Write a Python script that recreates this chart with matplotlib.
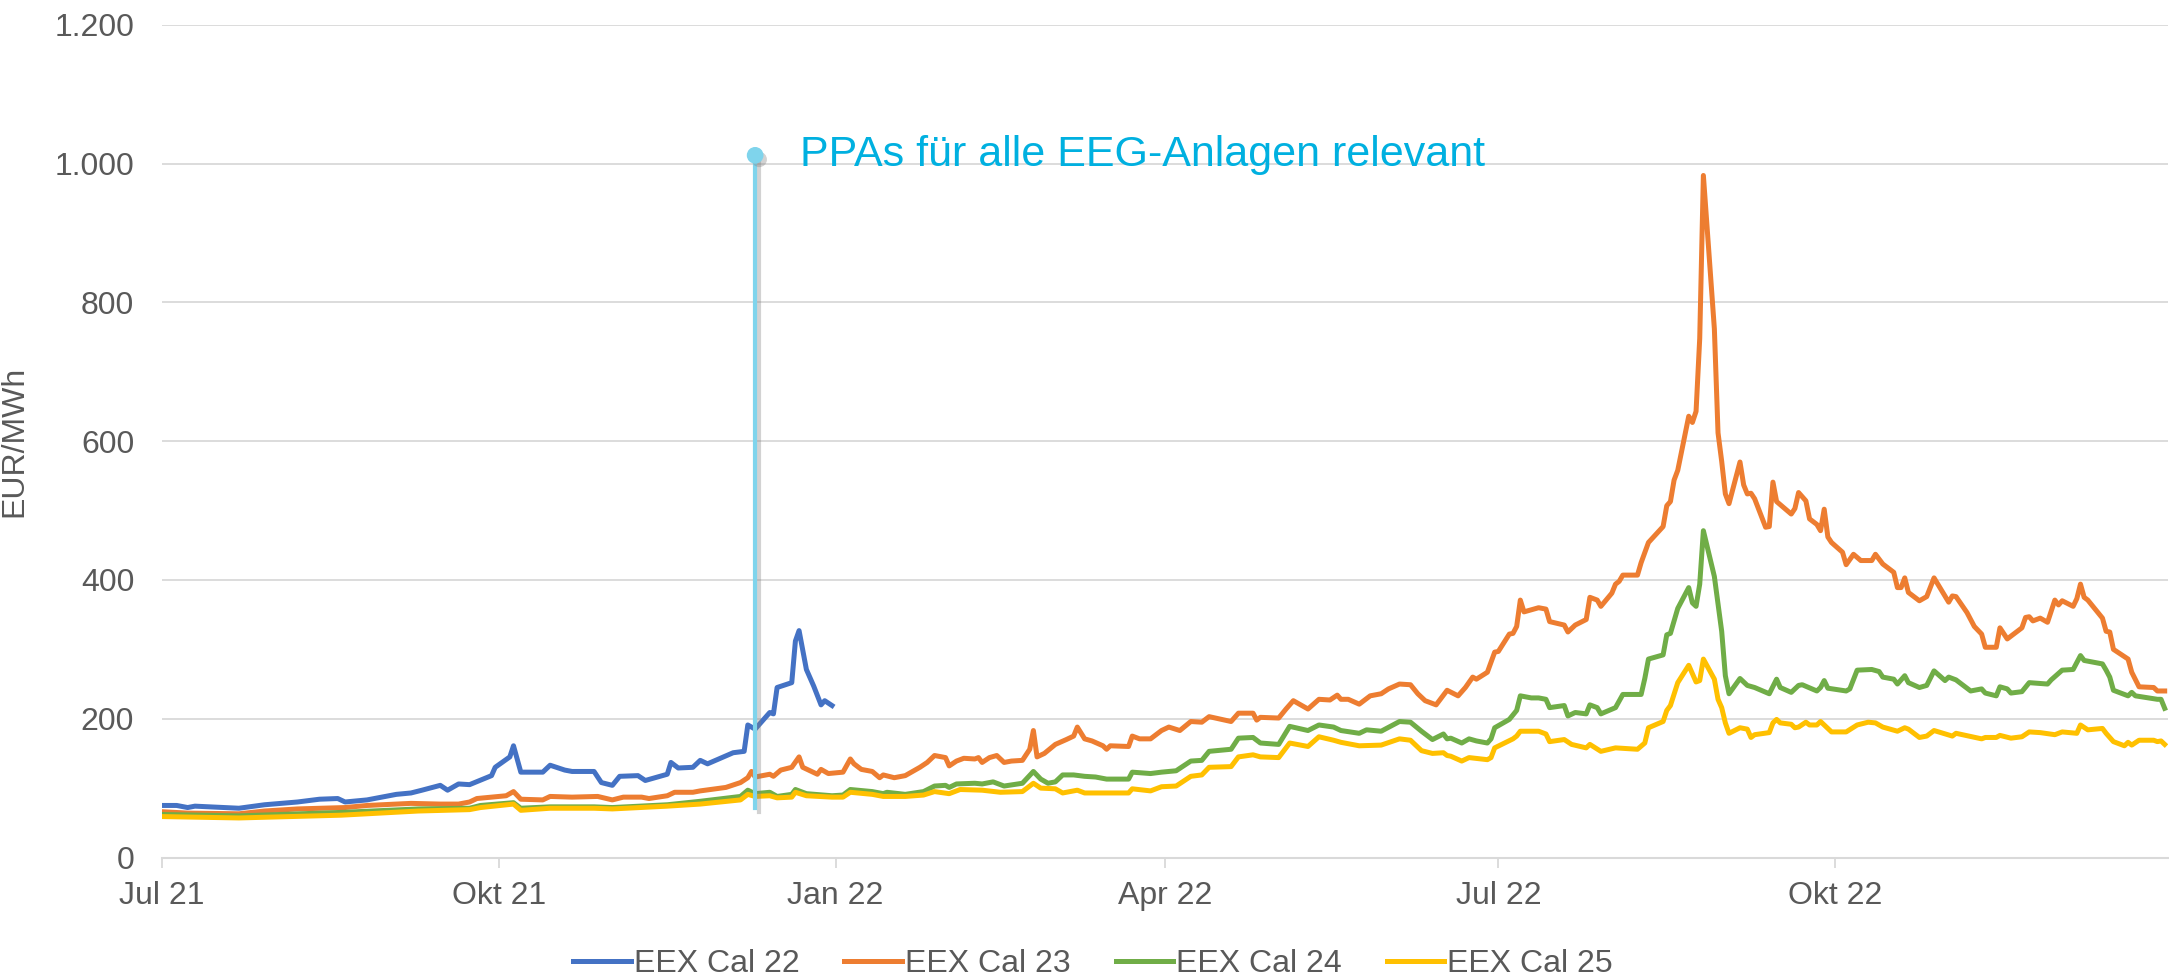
import matplotlib
matplotlib.use('Agg')
import matplotlib.pyplot as plt
import matplotlib.patheffects as pe
import pandas as pd

plt.rcParams['font.family'] = ['Liberation Sans', 'DejaVu Sans']

# EEX Cal 22
cal22_dates = ["2021-07-01", "2021-07-05", "2021-07-08", "2021-07-10", "2021-07-22", "2021-07-29",
               "2021-08-07", "2021-08-13", "2021-08-18", "2021-08-20", "2021-08-26", "2021-09-03",
               "2021-09-07", "2021-09-10", "2021-09-15", "2021-09-17", "2021-09-20", "2021-09-23",
               "2021-09-29", "2021-09-30", "2021-10-04", "2021-10-05", "2021-10-07", "2021-10-13",
               "2021-10-15", "2021-10-19", "2021-10-21", "2021-10-27", "2021-10-29", "2021-11-01",
               "2021-11-03", "2021-11-08", "2021-11-10", "2021-11-16", "2021-11-17", "2021-11-19",
               "2021-11-23", "2021-11-25", "2021-11-27", "2021-12-04", "2021-12-07", "2021-12-08",
               "2021-12-10", "2021-12-14", "2021-12-15", "2021-12-16", "2021-12-20", "2021-12-21",
               "2021-12-22", "2021-12-24", "2021-12-26", "2021-12-28", "2021-12-29", "2021-12-31"]
cal22_values = [75, 75, 72, 74, 71, 76,
                80, 84, 85, 80, 83, 91,
                93, 97, 104, 97, 106, 105,
                118, 130, 145, 161, 123, 123,
                133, 126, 124, 124, 108, 104,
                117, 118, 111, 120, 137, 129,
                130, 140, 135, 151, 153, 191,
                185, 209, 207, 245, 252, 312,
                327, 271, 247, 220, 226, 219]

# EEX Cal 23
cal23_dates = ["2021-07-01", "2021-07-08", "2021-07-22", "2021-07-29", "2021-08-07", "2021-08-20",
               "2021-08-26", "2021-09-07", "2021-09-15", "2021-09-20", "2021-09-23", "2021-09-25",
               "2021-09-29", "2021-10-03", "2021-10-05", "2021-10-07", "2021-10-13", "2021-10-15",
               "2021-10-21", "2021-10-28", "2021-11-01", "2021-11-04", "2021-11-09", "2021-11-11",
               "2021-11-16", "2021-11-18", "2021-11-23", "2021-11-25", "2021-12-02", "2021-12-06",
               "2021-12-08", "2021-12-09", "2021-12-10", "2021-12-14", "2021-12-15", "2021-12-17",
               "2021-12-20", "2021-12-22", "2021-12-23", "2021-12-27", "2021-12-28", "2021-12-30",
               "2022-01-03", "2022-01-05", "2022-01-06", "2022-01-08", "2022-01-11", "2022-01-13",
               "2022-01-14", "2022-01-17", "2022-01-20", "2022-01-23", "2022-01-24", "2022-01-26",
               "2022-01-28", "2022-01-31", "2022-02-01", "2022-02-03", "2022-02-05", "2022-02-08",
               "2022-02-09", "2022-02-10", "2022-02-12", "2022-02-14", "2022-02-16", "2022-02-18",
               "2022-02-21", "2022-02-23", "2022-02-24", "2022-02-25", "2022-02-27", "2022-03-02",
               "2022-03-05", "2022-03-07", "2022-03-08", "2022-03-10", "2022-03-12", "2022-03-15",
               "2022-03-16", "2022-03-17", "2022-03-22", "2022-03-23", "2022-03-25", "2022-03-28",
               "2022-03-31", "2022-04-02", "2022-04-05", "2022-04-08", "2022-04-11", "2022-04-13",
               "2022-04-19", "2022-04-21", "2022-04-25", "2022-04-26", "2022-04-27", "2022-05-02",
               "2022-05-04", "2022-05-06", "2022-05-10", "2022-05-13", "2022-05-16", "2022-05-18",
               "2022-05-19", "2022-05-21", "2022-05-24", "2022-05-27", "2022-05-30", "2022-06-01",
               "2022-06-04", "2022-06-07", "2022-06-09", "2022-06-11", "2022-06-14", "2022-06-17",
               "2022-06-20", "2022-06-22", "2022-06-24", "2022-06-25", "2022-06-28", "2022-06-30",
               "2022-07-01", "2022-07-04", "2022-07-05", "2022-07-06", "2022-07-07", "2022-07-08",
               "2022-07-12", "2022-07-14", "2022-07-15", "2022-07-19", "2022-07-20", "2022-07-22",
               "2022-07-25", "2022-07-26", "2022-07-28", "2022-07-29", "2022-08-01", "2022-08-02",
               "2022-08-03", "2022-08-04", "2022-08-08", "2022-08-09", "2022-08-11", "2022-08-15",
               "2022-08-16", "2022-08-17", "2022-08-18", "2022-08-19", "2022-08-22", "2022-08-23",
               "2022-08-24", "2022-08-25", "2022-08-26", "2022-08-29", "2022-08-30", "2022-08-31",
               "2022-09-01", "2022-09-02", "2022-09-05", "2022-09-06", "2022-09-07", "2022-09-08",
               "2022-09-09", "2022-09-12", "2022-09-13", "2022-09-14", "2022-09-15", "2022-09-19",
               "2022-09-20", "2022-09-21", "2022-09-23", "2022-09-24", "2022-09-26", "2022-09-27",
               "2022-09-28", "2022-09-29", "2022-09-30", "2022-10-03", "2022-10-04", "2022-10-06",
               "2022-10-08", "2022-10-11", "2022-10-12", "2022-10-14", "2022-10-17", "2022-10-18",
               "2022-10-19", "2022-10-20", "2022-10-21", "2022-10-24", "2022-10-26", "2022-10-28",
               "2022-11-01", "2022-11-02", "2022-11-03", "2022-11-06", "2022-11-08", "2022-11-10",
               "2022-11-11", "2022-11-14", "2022-11-15", "2022-11-17", "2022-11-21", "2022-11-22",
               "2022-11-23", "2022-11-24", "2022-11-26", "2022-11-28", "2022-11-30", "2022-12-01",
               "2022-12-02", "2022-12-05", "2022-12-06", "2022-12-07", "2022-12-08", "2022-12-09",
               "2022-12-13", "2022-12-14", "2022-12-15", "2022-12-16", "2022-12-20", "2022-12-21",
               "2022-12-23", "2022-12-27", "2022-12-28", "2022-12-30"]
cal23_values = [66, 64, 63, 67, 70, 72,
                75, 78, 77, 77, 80, 85,
                87, 89, 95, 84, 83, 88,
                87, 88, 83, 87, 87, 85,
                89, 94, 94, 96, 101, 108,
                115, 124, 116, 120, 117, 126,
                130, 145, 130, 120, 127, 121,
                123, 142, 135, 127, 124, 115,
                119, 115, 118, 127, 130, 137,
                147, 144, 132, 139, 143, 142,
                144, 137, 144, 147, 137, 139,
                140, 156, 183, 145, 150, 163,
                170, 175, 188, 171, 168, 161,
                156, 161, 160, 175, 171, 171,
                183, 188, 183, 196, 195, 203,
                196, 208, 208, 198, 202, 201,
                214, 226, 214, 228, 227, 234,
                228, 228, 221, 233, 236, 243,
                250, 249, 236, 226, 220, 241,
                233, 245, 260, 257, 267, 296,
                297, 322, 323, 333, 371, 354,
                360, 358, 340, 335, 325, 335,
                343, 375, 371, 362, 381, 394,
                398, 407, 407, 425, 454, 477,
                507, 513, 544, 558, 636, 627,
                643, 748, 983, 762, 612, 571,
                524, 510, 570, 537, 524, 525,
                517, 476, 477, 541, 513, 495,
                503, 526, 514, 488, 480, 471,
                502, 462, 454, 440, 422, 437,
                428, 428, 437, 423, 411, 389,
                389, 403, 382, 370, 376, 403,
                368, 377, 376, 353, 333, 322,
                303, 303, 331, 315, 331, 346,
                347, 341, 345, 339, 371, 364,
                370, 362, 373, 394, 375, 371,
                345, 326, 325, 300, 286, 267,
                246, 245, 240, 240]

# EEX Cal 24
cal24_dates = ["2021-07-01", "2021-07-22", "2021-08-19", "2021-09-09", "2021-09-23", "2021-09-26",
               "2021-10-05", "2021-10-07", "2021-10-15", "2021-10-27", "2021-11-01", "2021-11-16",
               "2021-11-25", "2021-12-06", "2021-12-08", "2021-12-10", "2021-12-14", "2021-12-16",
               "2021-12-20", "2021-12-21", "2021-12-24", "2021-12-31", "2022-01-03", "2022-01-05",
               "2022-01-11", "2022-01-14", "2022-01-15", "2022-01-20", "2022-01-25", "2022-01-28",
               "2022-01-31", "2022-02-01", "2022-02-03", "2022-02-08", "2022-02-10", "2022-02-13",
               "2022-02-16", "2022-02-21", "2022-02-24", "2022-02-26", "2022-02-28", "2022-03-02",
               "2022-03-04", "2022-03-07", "2022-03-10", "2022-03-13", "2022-03-16", "2022-03-22",
               "2022-03-23", "2022-03-28", "2022-03-31", "2022-04-04", "2022-04-08", "2022-04-11",
               "2022-04-13", "2022-04-19", "2022-04-21", "2022-04-25", "2022-04-27", "2022-05-02",
               "2022-05-05", "2022-05-10", "2022-05-13", "2022-05-17", "2022-05-19", "2022-05-24",
               "2022-05-26", "2022-05-30", "2022-06-04", "2022-06-07", "2022-06-10", "2022-06-13",
               "2022-06-16", "2022-06-17", "2022-06-18", "2022-06-21", "2022-06-23", "2022-06-25",
               "2022-06-28", "2022-06-29", "2022-06-30", "2022-07-04", "2022-07-06", "2022-07-07",
               "2022-07-10", "2022-07-12", "2022-07-14", "2022-07-15", "2022-07-19", "2022-07-20",
               "2022-07-22", "2022-07-25", "2022-07-26", "2022-07-28", "2022-07-29", "2022-08-02",
               "2022-08-04", "2022-08-09", "2022-08-10", "2022-08-11", "2022-08-15", "2022-08-16",
               "2022-08-17", "2022-08-19", "2022-08-22", "2022-08-23", "2022-08-24", "2022-08-25",
               "2022-08-26", "2022-08-29", "2022-08-31", "2022-09-01", "2022-09-02", "2022-09-05",
               "2022-09-07", "2022-09-09", "2022-09-13", "2022-09-15", "2022-09-16", "2022-09-19",
               "2022-09-21", "2022-09-22", "2022-09-26", "2022-09-27", "2022-09-28", "2022-09-29",
               "2022-10-04", "2022-10-05", "2022-10-07", "2022-10-11", "2022-10-13", "2022-10-14",
               "2022-10-17", "2022-10-18", "2022-10-20", "2022-10-21", "2022-10-24", "2022-10-26",
               "2022-10-28", "2022-10-31", "2022-11-01", "2022-11-03", "2022-11-07", "2022-11-10",
               "2022-11-11", "2022-11-14", "2022-11-15", "2022-11-17", "2022-11-18", "2022-11-21",
               "2022-11-23", "2022-11-28", "2022-11-29", "2022-12-02", "2022-12-05", "2022-12-07",
               "2022-12-08", "2022-12-13", "2022-12-14", "2022-12-15", "2022-12-16", "2022-12-20",
               "2022-12-21", "2022-12-22", "2022-12-28", "2022-12-29", "2022-12-30"]
cal24_values = [62, 60, 65, 70, 71, 75,
                79, 71, 73, 73, 72, 76,
                81, 88, 97, 92, 94, 88,
                91, 98, 92, 89, 90, 98,
                95, 92, 94, 91, 95, 103,
                104, 101, 106, 107, 106, 109,
                103, 107, 124, 113, 107, 109,
                119, 119, 117, 116, 113, 113,
                123, 121, 123, 125, 139, 140,
                153, 156, 172, 173, 165, 163,
                189, 183, 191, 188, 183, 179,
                184, 182, 196, 195, 182, 170,
                178, 171, 172, 165, 171, 168,
                165, 171, 187, 199, 212, 233,
                230, 230, 228, 216, 219, 204,
                209, 207, 220, 216, 207, 216,
                235, 235, 258, 286, 292, 321,
                323, 359, 389, 367, 362, 394,
                471, 405, 326, 262, 236, 258,
                248, 245, 236, 257, 245, 238,
                248, 249, 240, 245, 255, 244,
                240, 243, 270, 271, 268, 260,
                257, 250, 262, 252, 245, 248,
                269, 255, 260, 256, 240, 243,
                237, 233, 246, 243, 237, 239,
                252, 250, 256, 270, 271, 291,
                284, 279, 270, 260, 241, 233,
                238, 233, 228, 228, 215]

# EEX Cal 25
cal25_dates = ["2021-07-01", "2021-07-22", "2021-08-19", "2021-09-09", "2021-09-23", "2021-09-26",
               "2021-10-05", "2021-10-07", "2021-10-15", "2021-10-27", "2021-11-01", "2021-11-16",
               "2021-11-25", "2021-12-06", "2021-12-08", "2021-12-10", "2021-12-14", "2021-12-16",
               "2021-12-20", "2021-12-21", "2021-12-24", "2021-12-31", "2022-01-03", "2022-01-05",
               "2022-01-11", "2022-01-14", "2022-01-20", "2022-01-25", "2022-01-28", "2022-02-01",
               "2022-02-04", "2022-02-10", "2022-02-15", "2022-02-21", "2022-02-24", "2022-02-26",
               "2022-03-02", "2022-03-04", "2022-03-08", "2022-03-10", "2022-03-16", "2022-03-22",
               "2022-03-23", "2022-03-28", "2022-03-31", "2022-04-04", "2022-04-08", "2022-04-11",
               "2022-04-13", "2022-04-19", "2022-04-21", "2022-04-25", "2022-04-27", "2022-05-02",
               "2022-05-05", "2022-05-10", "2022-05-13", "2022-05-17", "2022-05-19", "2022-05-24",
               "2022-05-30", "2022-06-04", "2022-06-07", "2022-06-10", "2022-06-13", "2022-06-16",
               "2022-06-17", "2022-06-18", "2022-06-21", "2022-06-23", "2022-06-28", "2022-06-29",
               "2022-06-30", "2022-07-05", "2022-07-06", "2022-07-07", "2022-07-12", "2022-07-14",
               "2022-07-15", "2022-07-19", "2022-07-21", "2022-07-25", "2022-07-26", "2022-07-29",
               "2022-08-02", "2022-08-08", "2022-08-10", "2022-08-11", "2022-08-15", "2022-08-16",
               "2022-08-17", "2022-08-19", "2022-08-22", "2022-08-24", "2022-08-25", "2022-08-26",
               "2022-08-29", "2022-08-30", "2022-08-31", "2022-09-01", "2022-09-02", "2022-09-05",
               "2022-09-07", "2022-09-08", "2022-09-09", "2022-09-13", "2022-09-14", "2022-09-15",
               "2022-09-16", "2022-09-19", "2022-09-20", "2022-09-21", "2022-09-23", "2022-09-24",
               "2022-09-26", "2022-09-27", "2022-09-30", "2022-10-04", "2022-10-07", "2022-10-10",
               "2022-10-12", "2022-10-14", "2022-10-18", "2022-10-20", "2022-10-21", "2022-10-24",
               "2022-10-26", "2022-10-28", "2022-11-02", "2022-11-03", "2022-11-10", "2022-11-11",
               "2022-11-14", "2022-11-15", "2022-11-18", "2022-11-21", "2022-11-23", "2022-11-26",
               "2022-11-30", "2022-12-02", "2022-12-06", "2022-12-07", "2022-12-09", "2022-12-13",
               "2022-12-14", "2022-12-16", "2022-12-19", "2022-12-20", "2022-12-21", "2022-12-23",
               "2022-12-27", "2022-12-28", "2022-12-29", "2022-12-30"]
cal25_values = [59, 57, 61, 67, 69, 72,
                77, 68, 71, 71, 70, 74,
                77, 83, 91, 88, 89, 86,
                87, 94, 89, 87, 87, 94,
                91, 88, 88, 90, 95, 92,
                98, 97, 94, 95, 107, 100,
                99, 93, 97, 93, 93, 93,
                99, 96, 102, 103, 117, 119,
                130, 131, 145, 148, 145, 144,
                165, 160, 174, 169, 166, 161,
                162, 171, 169, 154, 150, 151,
                147, 146, 139, 144, 141, 144,
                158, 171, 175, 182, 182, 178,
                167, 170, 163, 158, 163, 153,
                158, 156, 165, 187, 196, 212,
                219, 252, 277, 253, 255, 286,
                257, 228, 216, 194, 179, 187,
                185, 173, 177, 180, 194, 199,
                194, 192, 187, 188, 195, 191,
                191, 196, 181, 181, 191, 195,
                194, 188, 182, 187, 185, 173,
                175, 183, 175, 179, 171, 173,
                173, 176, 172, 174, 181, 180,
                177, 181, 179, 191, 184, 186,
                179, 167, 161, 166, 162, 169,
                169, 167, 168, 163]

series_names = ["EEX Cal 22", "EEX Cal 23", "EEX Cal 24", "EEX Cal 25"]
series_colors = ["#4472C4", "#ED7D31", "#70AD47", "#FFC000"]

x_tick_dates = ["2021-07-01", "2021-10-01", "2022-01-01", "2022-04-01", "2022-07-01", "2022-10-01"]
x_tick_labels = ["Jul 21", "Okt 21", "Jan 22", "Apr 22", "Jul 22", "Okt 22"]
y_ticks = [0, 200, 400, 600, 800, 1000, 1200]
y_tick_labels = ["0", "200", "400", "600", "800", "1.000", "1.200"]

# Markierung
marker_date = "2021-12-10"
marker_low = 71
marker_high = 1012
marker_text = "PPAs für alle EEG-Anlagen relevant"

fig = plt.figure(figsize=(21.69, 9.8), dpi=100)
ax = fig.add_axes([0.0747, 0.125, 0.925, 0.8496])

all_dates = [cal22_dates, cal23_dates, cal24_dates, cal25_dates]
all_values = [cal22_values, cal23_values, cal24_values, cal25_values]
for d, v, name, c in zip(all_dates, all_values, series_names, series_colors):
    ax.plot(pd.to_datetime(d), v, color=c, lw=3.6, label=name, solid_joinstyle='round')

md = pd.to_datetime(marker_date)
shadow = [pe.SimpleLineShadow(offset=(3, -3), shadow_color='#808080', alpha=0.35), pe.Normal()]
ax.plot([md, md], [marker_low, marker_high], color='#7FD4EC', lw=3, path_effects=shadow, zorder=5)
ax.plot([md], [marker_high], marker='o', ms=11, color='#7FD4EC', zorder=6,
        path_effects=[pe.SimplePatchShadow(offset=(3, -3), shadow_rgbFace='#808080', alpha=0.35), pe.Normal()])
ax.annotate(marker_text, xy=(md, marker_high), xytext=(32, 0), textcoords='offset points',
            va='center', ha='left', fontsize=31, color='#00B0E0', zorder=7)

ax.set_xlim(pd.Timestamp("2021-07-01"), pd.Timestamp("2022-12-31"))
ax.set_ylim(0, 1200)
ax.set_xticks(pd.to_datetime(x_tick_dates))
ax.set_xticklabels(x_tick_labels)
ax.set_yticks(y_ticks)
ax.set_yticklabels(y_tick_labels)

ax.tick_params(axis='x', length=7, width=1.3, color='#D9D9D9', pad=10, labelsize=23, labelcolor='#595959')
ax.tick_params(axis='y', length=0, pad=20, labelsize=23, labelcolor='#595959')
ax.yaxis.grid(True, color='#D9D9D9', lw=1.3)
ax.set_axisbelow(True)
for s in ['top', 'right', 'left']:
    ax.spines[s].set_visible(False)
ax.spines['bottom'].set_color('#D9D9D9')
ax.spines['bottom'].set_linewidth(1.5)

ax.set_ylabel("EUR/MWh", fontsize=23, color='#595959')
ax.yaxis.set_label_coords(-0.066, 0.5)

fig.legend(loc='center', bbox_to_anchor=(0.504, 0.0163), ncol=4, frameon=False, fontsize=23,
           handlelength=1.8, handletextpad=0.1, columnspacing=1.4, labelcolor='#595959')

plt.savefig("out.png", dpi=100)
